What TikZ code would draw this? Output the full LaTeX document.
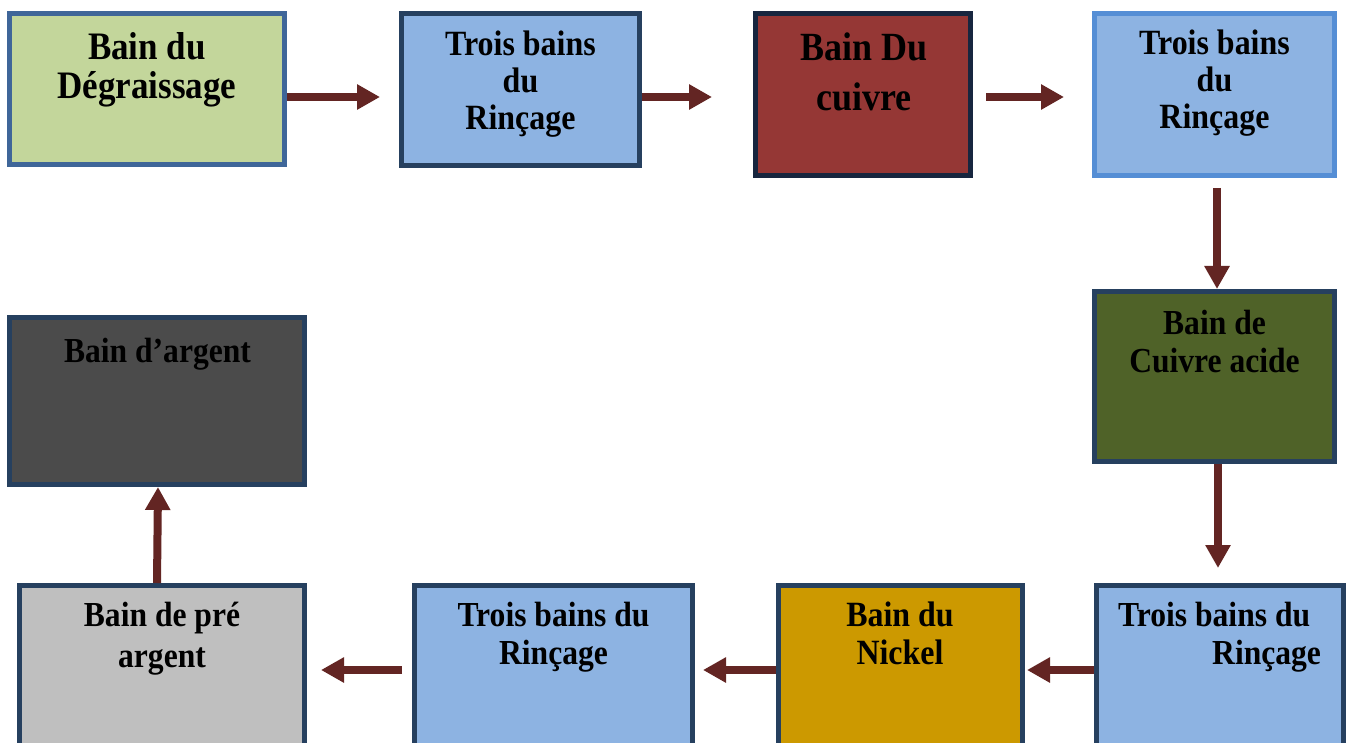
\documentclass[tikz,border=0pt]{standalone}
\usepackage{fontspec}
\setmainfont[FakeStretch=0.9]{Liberation Serif}
\usetikzlibrary{arrows.meta}
\definecolor{arrowred}{HTML}{632523}
\definecolor{navy}{HTML}{26405F}
\definecolor{darknavy}{HTML}{17263F}
\definecolor{midblue}{HTML}{3F6699}
\definecolor{lightedge}{HTML}{558ED5}
\definecolor{rinse}{HTML}{8DB3E2}
\definecolor{degreen}{HTML}{C3D69B}
\definecolor{copper}{HTML}{953735}
\definecolor{olive}{HTML}{4F6228}
\definecolor{nickel}{HTML}{CC9900}
\definecolor{lightgrey}{HTML}{BFBFBF}
\definecolor{darkgrey}{HTML}{4B4B4B}
\begin{document}
\begin{tikzpicture}[x=1pt,y=-1pt,
  box/.style={draw=navy, line width=5pt, rectangle, inner sep=0pt},
  lbl/.style={anchor=north, inner sep=0pt, align=center, text=black,
              font=\bfseries\fontsize{35.1}{38}\selectfont},
  flow/.style={draw=arrowred, line width=8pt, -{Triangle[length=23pt,width=24pt]}}
]
\useasboundingbox (0,0) rectangle (1352,743);
\clip (0,0) rectangle (1352,743);

% boxes
\node[box, draw=midblue, fill=degreen, minimum width=275pt, minimum height=151pt] (b1) at (147,89) {};
\node[box, fill=rinse, minimum width=238pt, minimum height=152pt] (b2) at (520.5,89.5) {};
\node[box, draw=darknavy, fill=copper, minimum width=215pt, minimum height=162pt] (b3) at (863,94.5) {};
\node[box, draw=lightedge, fill=rinse, minimum width=240pt, minimum height=162pt] (b4) at (1214.5,94.5) {};
\node[box, fill=olive, minimum width=240pt, minimum height=170pt] (b5) at (1214.5,376.5) {};
\node[box, fill=rinse, minimum width=247pt, minimum height=173pt] (b6) at (1220,672) {};
\node[box, fill=nickel, minimum width=244pt, minimum height=173pt] (b7) at (900.5,672) {};
\node[box, fill=rinse, minimum width=278pt, minimum height=173pt] (b8) at (553.5,672) {};
\node[box, fill=lightgrey, minimum width=285pt, minimum height=173pt] (b9) at (162,672) {};
\node[box, fill=darkgrey, minimum width=295pt, minimum height=167pt] (b10) at (157,401) {};

% labels
\node[lbl, font=\bfseries\fontsize{38.9}{39}\selectfont] (t1) at (147,32.7) {Bain du\\Dégraissage};
\node[lbl, font=\bfseries\fontsize{35.5}{36.7}\selectfont] (t2) at (520.5,31) {Trois bains\\du\\Rinçage};
\node[lbl, font=\bfseries\fontsize{40}{50}\selectfont] (t3) at (864,32.9) {Bain Du\\cuivre};
\node[lbl, font=\bfseries\fontsize{35.5}{37}\selectfont] (t4) at (1214.5,30) {Trois bains\\du\\Rinçage};
\node[lbl] (t5) at (1214.5,310.2) {Bain de\\Cuivre acide};
\node[lbl] (t10) at (157.5,338.2) {Bain d’argent};
\node[lbl, font=\bfseries\fontsize{35.1}{41}\selectfont] (t9) at (162,602.3) {Bain de pré\\argent};
\node[lbl] (t8) at (553.5,602.2) {Trois bains du\\Rinçage};
\node[lbl, font=\bfseries\fontsize{35.5}{38}\selectfont] (t7) at (900,602) {Bain du\\Nickel};
\node[lbl, anchor=north west, align=left] (t6) at (1118,602.2) {Trois bains du\\\hspace*{94pt}Rinçage};

% helper coordinates for connector rows/columns
\coordinate (r1) at (0,97);
\coordinate (r3) at (0,670);
\coordinate (c4) at (1217,0);
\coordinate (c5) at (1218,0);
\coordinate (c9a) at (157,0);
\coordinate (c9b) at (158,0);

% connectors
\draw[flow, shorten >=19pt] (b1.east |- r1) -- (b2.west |- r1);
\draw[flow, shorten >=41pt] (b2.east |- r1) -- (b3.west |- r1);
\draw[flow, shorten <=13pt, shorten >=28pt] (b3.east |- r1) -- (b4.west |- r1);
\draw[flow, shorten <=10pt] (b4.south -| c4) -- (b5.north -| c4);
\draw[flow, shorten >=15pt] (b5.south -| c5) -- (b6.north -| c5);
\draw[flow, shorten >=2pt] (b6.west |- r3) -- (b7.east |- r3);
\draw[flow, shorten >=8pt] (b7.west |- r3) -- (b8.east |- r3);
\draw[flow, shorten <=10pt, shorten >=14pt] (b8.west |- r3) -- (b9.east |- r3);
\draw[flow] (b9.north -| c9a) -- (b10.south -| c9b);
\end{tikzpicture}
\end{document}
